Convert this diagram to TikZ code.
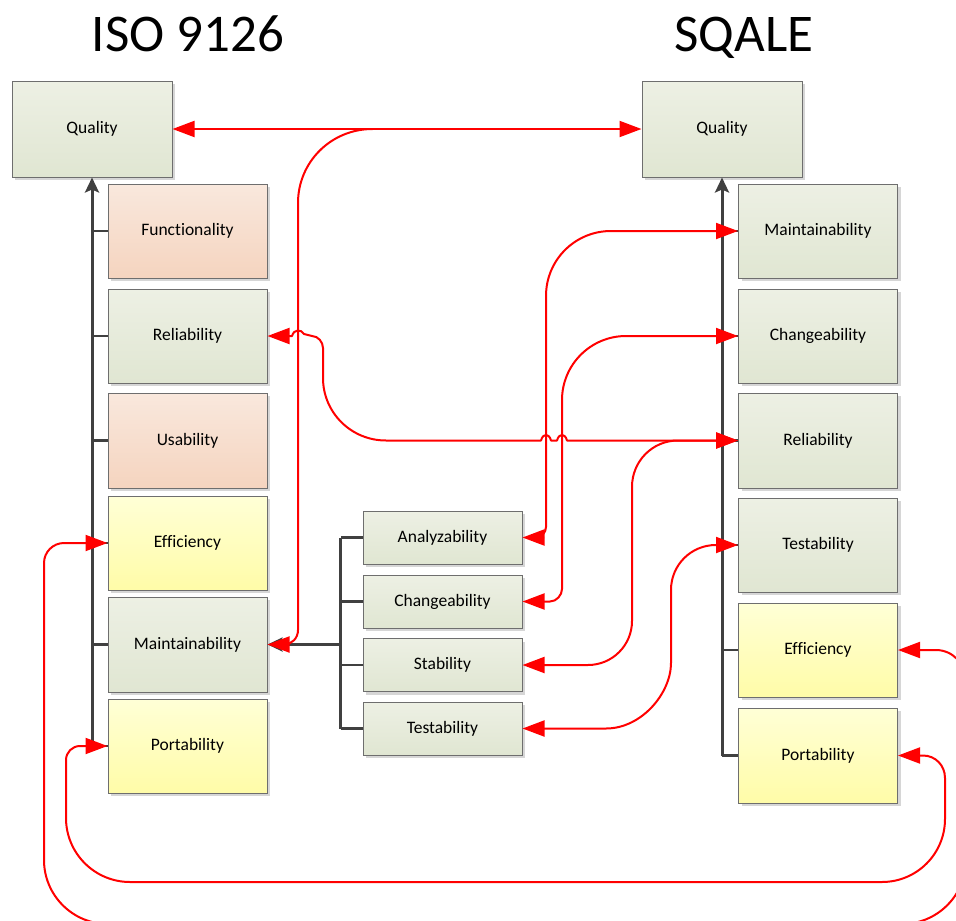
\documentclass[tikz,border=0pt]{standalone}
\usepackage{fontspec}
\setmainfont{Carlito}[Ligatures=NoCommon]
\usetikzlibrary{arrows.meta,shadows,calc}

\definecolor{grnTop}{HTML}{EDF0E4}
\definecolor{grnBot}{HTML}{E0E6D2}
\definecolor{orgTop}{HTML}{F9E8DD}
\definecolor{orgBot}{HTML}{F5D4BF}
\definecolor{ylwTop}{HTML}{FFFFD6}
\definecolor{ylwBot}{HTML}{FFFCA8}
\definecolor{boxEdge}{HTML}{6E6E6E}
\definecolor{treeGrey}{HTML}{404040}
\definecolor{linkRed}{HTML}{FF0000}

\tikzset{
  box/.style={rectangle, draw=boxEdge, line width=1pt, minimum width=159pt,
    minimum height=94pt, inner sep=0pt, font=\fontsize{17.5}{20}\selectfont,
    drop shadow={shadow xshift=3pt, shadow yshift=-3pt, fill=black!16, opacity=1}},
  smallbox/.style={box, minimum height=53pt},
  grn/.style={top color=grnTop, bottom color=grnBot},
  org/.style={top color=orgTop, bottom color=orgBot},
  ylw/.style={top color=ylwTop, bottom color=ylwBot},
  heading/.style={font=\fontsize{53}{60}\selectfont, inner sep=0pt},
  trunk/.style={draw=treeGrey, line width=3pt, -{Stealth[length=15pt,width=14pt,inset=3pt]}},
  twig/.style={draw=treeGrey, line width=2.2pt},
  link/.style={draw=linkRed, line width=2pt, line join=round,
    {Triangle[length=22pt,width=16pt]}-{Triangle[length=22pt,width=16pt]}},
  onelink/.style={draw=linkRed, line width=2pt, line join=round,
    -{Triangle[length=22pt,width=16pt]}}
}

\begin{document}
\begin{tikzpicture}[x=1pt, y=-1pt]
\useasboundingbox (0,0) rectangle (956,921);
\clip (0,0) rectangle (956,921);

% headings
\node[heading] (isoT) at (188,34) {ISO 9126};
\node[heading] (sqT) at (744,38) {SQALE};

% ISO 9126 model
\node[box, grn, minimum width=160pt, minimum height=96pt] (qL) at (92,129) {Quality};
\node[box, org] (fL) at (187.5,231) {Functionality};
\node[box, grn] (rL) at (187.5,336) {Reliability};
\node[box, org, minimum height=95pt] (uL) at (187.5,440.5) {Usability};
\node[box, ylw] (eL) at (187.5,543) {Efficiency};
\node[box, grn, minimum height=95pt] (mL) at (187.5,644.5) {Maintainability};
\node[box, ylw] (pL) at (187.5,746) {Portability};

% ISO maintainability sub-characteristics
\node[smallbox, grn] (aZ) at (442.5,537.5) {Analyzability};
\node[smallbox, grn] (cZ) at (442.5,601.5) {Changeability};
\node[smallbox, grn] (sZ) at (442.5,665) {Stability};
\node[smallbox, grn] (tZ) at (442.5,728.5) {Testability};

% SQALE model
\node[box, grn, minimum width=160pt, minimum height=96pt] (qR) at (722,129) {Quality};
\node[box, grn] (mR) at (818,231) {Maintainability};
\node[box, grn] (cR) at (818,336) {Changeability};
\node[box, grn, minimum height=95pt] (rR) at (818,440.5) {Reliability};
\node[box, grn] (tR) at (818,545) {Testability};
\node[box, ylw] (eR) at (818,650) {Efficiency};
\node[box, ylw, minimum height=95pt] (pR) at (818,755.5) {Portability};

% hierarchy trees
\draw[trunk] (qL.south |- pL.west) -- (qL.south);
\foreach \n in {fL,rL,uL,eL,mL,pL} \draw[twig] (\n.west) -- (\n.west -| qL.south);
\draw[trunk] (qR.south |- pR.west) -- (qR.south);
\foreach \n in {mR,cR,rR,tR,eR,pR} \draw[twig] (\n.west) -- (\n.west -| qR.south);

\path (mL.east) ++(73,0) coordinate (mj);
\draw[twig] (aZ.west -| mj) -- (tZ.west -| mj);
\foreach \n in {aZ,cZ,sZ,tZ} \draw[twig] (\n.west) -- (\n.west -| mj);
\draw[trunk, line width=2.6pt] (mj) -- (mL.east);

% mappings between the two models (corners are quarter circles)
\path (qL.east) ++(200,0) coordinate (jq);
\draw[link] (qL.east) -- (qR.west);
\draw[onelink] (jq) .. controls (331,129) and (298,162) .. (298,203) -- (298,630)
  .. controls (298,638) and (292,644.5) .. (284,644.5) -- (mL.east);

\draw[link] (rL.east) -- (292,336) .. controls (294,329) and (301,329) .. (304,334)
  -- (312,336) .. controls (318,336) and (323,342) .. (323,348) -- (323,378)
  .. controls (323,412.5) and (351,440.5) .. (386,440.5) -- (541,440.5)
  .. controls (543,433) and (549,433) .. (551,440.5)
  -- (557,440.5) .. controls (559,433) and (565,433) .. (567,440.5) -- (rR.west);

\draw[link] (aZ.east) -- (536,537.5) .. controls (541.5,537.5) and (546,532.5) .. (546,527)
  -- (546,296) .. controls (546,260) and (575,231) .. (611,231) -- (mR.west);

\draw[link] (cZ.east) -- (550,601.5) .. controls (556.6,601.5) and (562,595) .. (562,589)
  -- (562,400) .. controls (562,364.7) and (590.7,336) .. (626,336) -- (cR.west);

\draw[link] (sZ.east) -- (588,665) .. controls (612.3,665) and (632,645.3) .. (632,621)
  -- (632,487) .. controls (632,461) and (652.6,440.5) .. (678,440.5) -- (rR.west);

\draw[link] (tZ.east) -- (606,728.5) .. controls (641.9,728.5) and (671,692.9) .. (671,663)
  -- (671,590) .. controls (671,565) and (691,545) .. (716,545) -- (tR.west);

\draw[link] (eL.west) -- (64,543) .. controls (53,543) and (44,552) .. (44,563) -- (44,860)
  .. controls (44,895.3) and (72.7,924) .. (108,924) -- (902,924)
  .. controls (937.3,924) and (966,895.3) .. (966,860) -- (966,681)
  .. controls (966,664) and (952.6,650) .. (936,650) -- (eR.east);

\draw[link] (pL.west) -- (80,746) .. controls (72.3,746) and (66,752.3) .. (66,760) -- (66,818)
  .. controls (66,853.3) and (94.7,882) .. (130,882) -- (882,882)
  .. controls (916.8,882) and (945,853.8) .. (945,819) -- (945,778)
  .. controls (945,765.1) and (935.1,755.5) .. (923,755.5) -- (pR.east);
\end{tikzpicture}
\end{document}
